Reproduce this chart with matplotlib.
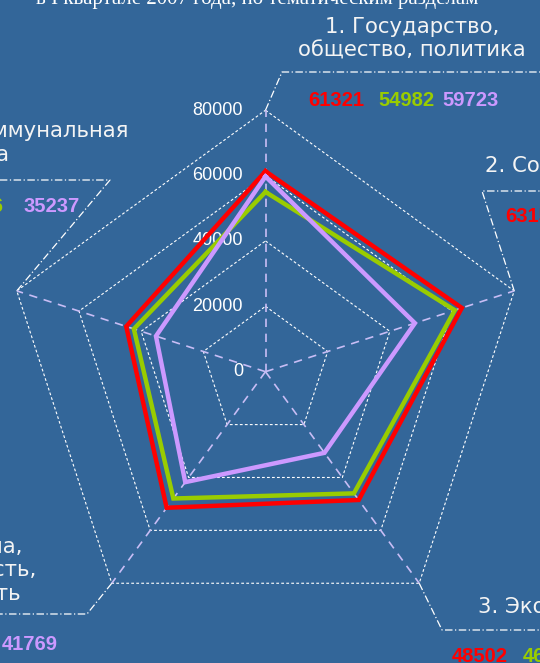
import numpy as np
import matplotlib.pyplot as plt

# radar chart: requests by topic sections
categories = ['1. Государство,\nобщество, политика',
              '2. Социальная сфера',
              '3. Экономика',
              '4. Оборона,\nбезопасность,\nзаконность',
              '5. Жилищно-коммунальная\nсфера']
red_vals = [61321, 63150, 48502, 51450, 44800]
green_vals = [54982, 60880, 46010, 47950, 42346]
purple_vals = [59723, 48060, 30680, 41769, 35237]
ticks = [0, 20000, 40000, 60000, 80000]
title = 'в I квартале 2007 года, по тематическим разделам'

bg = '#336699'
red_c = '#ff0000'
green_c = '#99cc00'
purple_c = '#cc99ff'
spoke_c = '#c8bdf5'

W, H = 540, 663
cx, cy = 265.5, 371.7          # centre of the web in pixels
rmax = ticks[-1]
k = rmax / 261.5                # data units per pixel


def px(x, y):
    # pixel position -> data coords
    return (x - cx) * k, (cy - y) * k


angles = np.deg2rad(90 - 72 * np.arange(len(categories)))


def xy(vals):
    vals = np.asarray(vals, dtype=float)
    x = vals * np.cos(angles)
    y = vals * np.sin(angles)
    return np.append(x, x[0]), np.append(y, y[0])


fig = plt.figure(figsize=(W / 100, H / 100), dpi=100)
fig.patch.set_facecolor(bg)
ax = fig.add_axes([0, 0, 1, 1])
ax.set_facecolor(bg)
x0, y1 = px(0, 0)
x1, y0 = px(W, H)
ax.set_xlim(x0, x1)
ax.set_ylim(y0, y1)
ax.axis('off')

# rings
for t in ticks[1:]:
    gx, gy = xy([t] * 5)
    ax.plot(gx, gy, color='white', lw=0.8, ls=(0, (2.5, 2)), zorder=1)

# spokes
for a in angles:
    ax.plot([0, rmax * np.cos(a)], [0, rmax * np.sin(a)], color=spoke_c,
            lw=1.2, ls=(0, (5, 4)), zorder=2)

# tick labels
for t in ticks:
    ax.text(px(243, 0)[0], t, str(t), ha='right', va='center',
            color='white', fontsize=13, family='Liberation Sans', zorder=3)

# data
for vals, c in [(red_vals, red_c), (green_vals, green_c), (purple_vals, purple_c)]:
    lx, ly = xy(vals)
    ax.plot(lx, ly, color=c, lw=3.2, solid_joinstyle='miter', zorder=4)

# leader lines (corner of label box, far end of the horizontal)
corners = [(282, 72, 545), (482, 191, 545), (442, 630, 545), (87, 614, -5), (110, 180, -5)]
for i, (bx, by, ex) in enumerate(corners):
    vx, vy = rmax * np.cos(angles[i]), rmax * np.sin(angles[i])
    c1 = px(bx, by)
    c2 = px(ex, by)
    ax.plot([vx, c1[0], c2[0]], [vy, c1[1], c2[1]], color='white', lw=0.9,
            ls=(0, (6, 2, 1, 2)), zorder=1)

# category labels
cat_pos = [(412, 39, 'center'), (485, 166, 'left'), (478, 607, 'left'),
           (-42, 570, 'center'), (-25, 143, 'center')]
for lab, (lx, ly, ha) in zip(categories, cat_pos):
    p = px(lx, ly)
    ax.text(p[0], p[1], lab, ha=ha, va='center', multialignment='center',
            color='#f4f4f4', fontsize=15.3, family='DejaVu Sans',
            linespacing=1.22, zorder=5)

# value labels under each category
val_pos = [((308, 378, 442), 100), ((505, 575, 639), 217), ((452, 523, 587), 656),
           ((-132, -62, 2), 645), ((-122, -52, 24), 207)]
for i, (xs, yy) in enumerate(val_pos):
    for vals, c, xx in zip([red_vals, green_vals, purple_vals],
                           [red_c, green_c, purple_c], xs):
        p = px(xx, yy)
        ax.text(p[0], p[1], str(vals[i]), ha='left', va='center', color=c,
                fontsize=14.5, fontweight='bold', family='Liberation Sans', zorder=5)

# title (cut off at the top)
p = px(257, 4)
ax.text(p[0], p[1], title, ha='center', va='baseline', color='white',
        fontsize=15, family='Liberation Serif', zorder=5)

fig.savefig('out.png', dpi=100, facecolor=bg)
